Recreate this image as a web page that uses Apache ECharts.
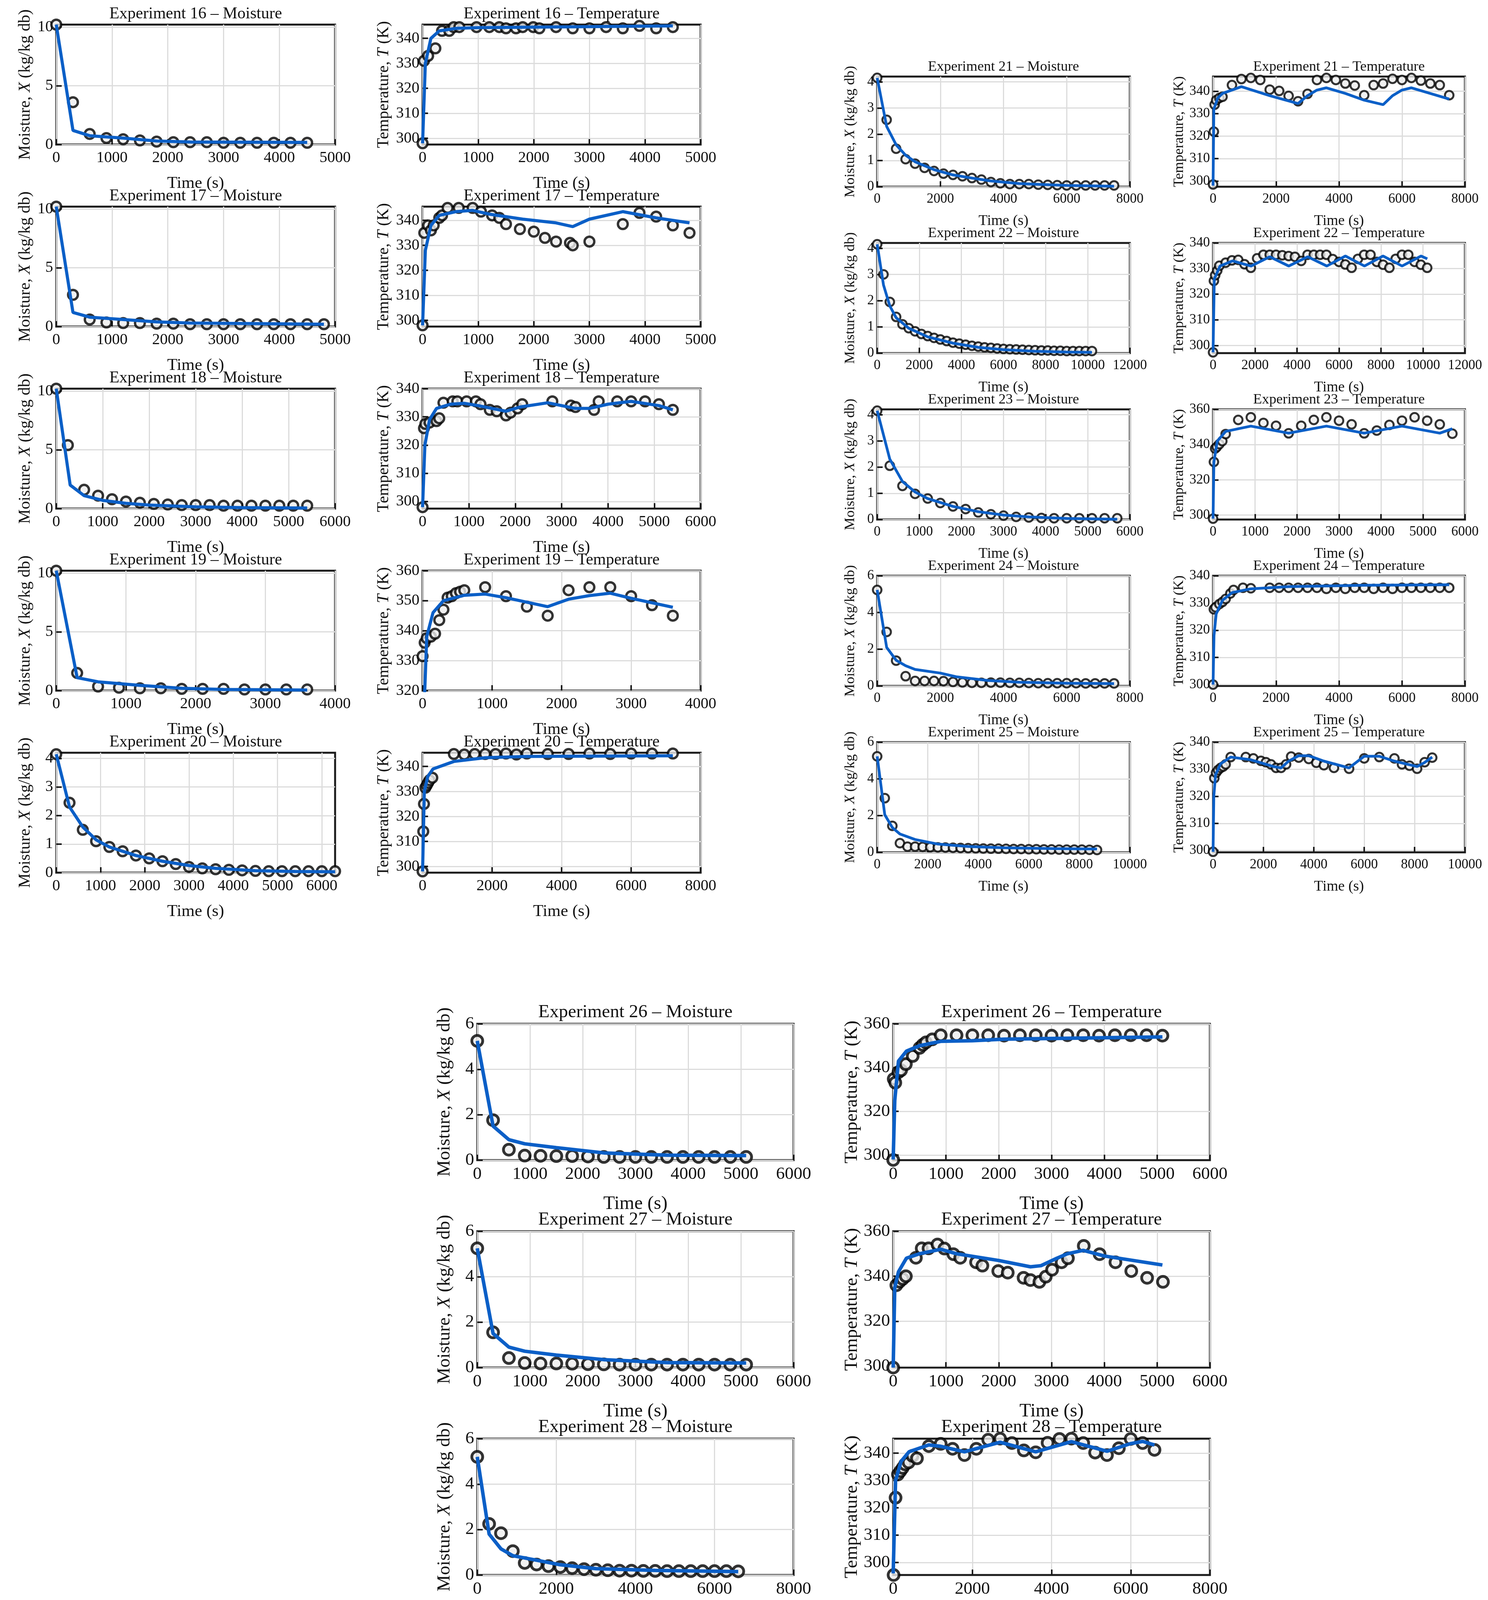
<!DOCTYPE html>
<html>
<head>
<meta charset="utf-8">
<script src="https://cdn.jsdelivr.net/npm/echarts@6/dist/echarts.min.js"></script>
<style>
html,body{margin:0;padding:0;background:#fff;}
#main{width:3810px;height:5228px;}
</style>
</head>
<body>
<div id="main"></div>
<script>
// time grids (s) for moisture samples
var t_3600 = [0,300,600,900,1200,1500,1800,2100,2400,2700,3000,3300,3600];
var t_4500 = [0,300,600,900,1200,1500,1800,2100,2400,2700,3000,3300,3600,3900,4200,4500];
var t_4800 = [0,300,600,900,1200,1500,1800,2100,2400,2700,3000,3300,3600,3900,4200,4500,4800];
var t_5100 = [0,300,600,900,1200,1500,1800,2100,2400,2700,3000,3300,3600,3900,4200,4500,4800,5100];
var t_5400 = [0,250,600,900,1200,1500,1800,2100,2400,2700,3000,3300,3600,3900,4200,4500,4800,5100,5400];
var t_5700 = [0,300,600,900,1200,1500,1800,2100,2400,2700,3000,3300,3600,3900,4200,4500,4800,5100,5400,5700];
var t_6300 = [0,300,600,900,1200,1500,1800,2100,2400,2700,3000,3300,3600,3900,4200,4500,4800,5100,5400,5700,6000,6300];
var t_6600 = [0,300,600,900,1200,1500,1800,2100,2400,2700,3000,3300,3600,3900,4200,4500,4800,5100,5400,5700,6000,6300,6600];
var t_7500 = [0,300,600,900,1200,1500,1800,2100,2400,2700,3000,3300,3600,3900,4200,4500,4800,5100,5400,5700,6000,6300,6600,6900,7200,7500];
var t_8700 = [0,300,600,900,1200,1500,1800,2100,2400,2700,3000,3300,3600,3900,4200,4500,4800,5100,5400,5700,6000,6300,6600,6900,7200,7500,7800,8100,8400,8700];
var t_10200 = [0,300,600,900,1200,1500,1800,2100,2400,2700,3000,3300,3600,3900,4200,4500,4800,5100,5400,5700,6000,6300,6600,6900,7200,7500,7800,8100,8400,8700,9000,9300,9600,9900,10200];

// moisture, measured (kg/kg db)
var e16_X = [10.2,3.6,0.9,0.55,0.45,0.35,0.25,0.2,0.2,0.2,0.15,0.15,0.15,0.15,0.15,0.15];
var e17_X = [10.2,2.7,0.6,0.35,0.3,0.3,0.25,0.25,0.2,0.2,0.2,0.2,0.2,0.2,0.2,0.2,0.2];
var e18_X = [10.2,5.4,1.6,1.1,0.8,0.6,0.5,0.4,0.35,0.3,0.3,0.3,0.25,0.25,0.25,0.25,0.25,0.25,0.25];
var e19_X = [10.2,1.5,0.35,0.25,0.2,0.2,0.15,0.15,0.15,0.1,0.1,0.1,0.1];
var e20_X = [4.15,2.45,1.5,1.1,0.9,0.75,0.6,0.5,0.4,0.3,0.2,0.15,0.12,0.1,0.08,0.06,0.05,0.05,0.05,0.05,0.05,0.05];
var e21_X = [4.15,2.55,1.45,1.05,0.88,0.72,0.6,0.5,0.45,0.4,0.33,0.27,0.18,0.13,0.1,0.1,0.1,0.08,0.07,0.06,0.05,0.05,0.05,0.05,0.05,0.05];
var e22_X = [4.15,3.0,1.95,1.38,1.1,0.95,0.83,0.73,0.65,0.58,0.52,0.46,0.4,0.36,0.32,0.28,0.25,0.22,0.2,0.18,0.16,0.15,0.14,0.13,0.12,0.11,0.1,0.1,0.09,0.09,0.08,0.08,0.08,0.08,0.08];
var e23_X = [4.15,2.05,1.28,0.98,0.8,0.63,0.5,0.4,0.27,0.2,0.15,0.1,0.08,0.06,0.05,0.05,0.05,0.05,0.05,0.05];
var e24_X = [5.23,2.94,1.38,0.53,0.27,0.27,0.27,0.26,0.22,0.19,0.17,0.17,0.18,0.18,0.17,0.17,0.16,0.15,0.15,0.15,0.15,0.15,0.14,0.14,0.14,0.14];
var e25_X = [5.23,2.95,1.44,0.5,0.31,0.31,0.3,0.28,0.27,0.26,0.25,0.24,0.23,0.22,0.21,0.2,0.2,0.19,0.18,0.18,0.17,0.17,0.16,0.16,0.15,0.15,0.15,0.15,0.14,0.13];
var e26_X = [5.25,1.76,0.46,0.2,0.19,0.18,0.18,0.16,0.14,0.14,0.14,0.14,0.14,0.14,0.14,0.14,0.14,0.14];
var e27_X = [5.25,1.55,0.42,0.2,0.18,0.18,0.17,0.15,0.14,0.13,0.13,0.13,0.13,0.13,0.13,0.13,0.13,0.13];
var e28_X = [5.2,2.25,1.84,1.05,0.53,0.46,0.39,0.35,0.3,0.26,0.23,0.21,0.19,0.19,0.18,0.18,0.17,0.17,0.17,0.17,0.17,0.17,0.16];
var e29_X = [5.25,2.35,1.75,0.85,0.6,0.5,0.42,0.37,0.3,0.27,0.25,0.22,0.2,0.2,0.19,0.18,0.18,0.17,0.17,0.17,0.17,0.17,0.15];
var e30_X = [5.25,2.35,1.75,0.9,0.5,0.45,0.4,0.35,0.28,0.25,0.22,0.2,0.18,0.18,0.17,0.17,0.16,0.16,0.16,0.16,0.16,0.16,0.14];

// moisture, model [t, X]
var e16_Xfit = [[0,10.2],[300,1.2],[600,0.75],[1200,0.55],[1800,0.3],[2400,0.22],[4500,0.18]];
var e17_Xfit = [[0,10.2],[300,1.2],[600,0.8],[1200,0.6],[1800,0.4],[2400,0.3],[4800,0.2]];
var e18_Xfit = [[0,10.2],[300,2],[600,1.1],[1000,0.7],[1500,0.45],[2000,0.3],[3000,0.15],[4000,0.08],[5400,0.05]];
var e19_Xfit = [[0,10.2],[300,1.1],[600,0.75],[1200,0.45],[1800,0.2],[2400,0.1],[3600,0.05]];
var e20_Xfit = [[0,4.15],[300,2.3],[600,1.6],[900,1.15],[1200,0.9],[1800,0.6],[2400,0.4],[3000,0.25],[3600,0.15],[4500,0.07],[5400,0.04],[6300,0.03]];
var e21_Xfit = [[0,4.15],[300,2.3],[600,1.6],[900,1.2],[1200,0.95],[1800,0.65],[2400,0.45],[3000,0.33],[3600,0.22],[4500,0.12],[6000,0.05],[7500,0.02]];
var e22_Xfit = [[0,4.15],[300,2.6],[600,1.8],[900,1.35],[1500,0.95],[2400,0.62],[3600,0.38],[4800,0.22],[6000,0.13],[7500,0.07],[9000,0.04],[10200,0.03]];
var e23_Xfit = [[0,4.15],[300,2.3],[600,1.45],[900,1.05],[1200,0.8],[1800,0.5],[2400,0.3],[3000,0.17],[3600,0.1],[4500,0.04],[5700,0.01]];
var e24_Xfit = [[0,5.23],[300,2.1],[600,1.4],[900,1.1],[1200,0.9],[2000,0.7],[2500,0.5],[3500,0.3],[4500,0.2],[6000,0.15],[7500,0.13]];
var e25_Xfit = [[0,5.23],[300,2.05],[600,1.35],[900,1.0],[1500,0.7],[2400,0.45],[3600,0.32],[5000,0.25],[7000,0.2],[8700,0.18]];
var e26_Xfit = [[0,5.25],[300,1.5],[600,0.9],[900,0.72],[1500,0.55],[2400,0.32],[3600,0.22],[5100,0.2]];
var e27_Xfit = [[0,5.25],[300,1.5],[600,0.9],[900,0.72],[1500,0.55],[2400,0.35],[3600,0.22],[5100,0.2]];
var e28_Xfit = [[0,5.2],[300,1.8],[600,1.15],[900,0.85],[1500,0.65],[2100,0.45],[3000,0.28],[4500,0.2],[6600,0.15]];
var e29_Xfit = [[0,5.25],[300,1.75],[600,1.1],[900,0.85],[1500,0.62],[2100,0.45],[3000,0.3],[4500,0.22],[6600,0.18]];
var e30_Xfit = [[0,5.25],[300,1.75],[600,1.1],[900,0.8],[1500,0.6],[2100,0.42],[3000,0.3],[4500,0.22],[6600,0.2]];

// temperature, measured (K)
var e16_Tt = [0,25,100,230,350,480,560,660,970,1200,1380,1500,1680,1800,1990,2100,2400,2700,3000,3300,3600,3900,4200,4500];
var e16_T = [298,331,333,336,343,343,344.5,344.5,344.5,344.5,344.5,344,344,344.5,344.5,344,344.5,344,344,344.5,344,345,344,344.5];
var e17_Tt = [0,30,100,150,200,300,350,450,650,900,1050,1250,1380,1500,1750,2000,2200,2400,2650,2700,3000,3600,3900,4200,4500,4800];
var e17_T = [298,335,338,336,338,341,342,345,345,345,343.5,342,341,338.5,336.5,335.5,333,331.5,331,330,331.5,338.5,343,341.5,338,335];
var e18_Tt = [0,30,60,150,300,360,450,650,750,950,1150,1250,1450,1600,1800,1900,2050,2150,2800,3200,3300,3700,3800,4200,4500,4800,5100,5400];
var e18_T = [298,326,327.5,328,328.5,329.5,335,335.5,335.5,335.5,335.5,334.5,332.5,332,330.5,331.5,333,334.5,335.5,334,333.5,332.5,335.5,335.5,335.5,335.5,334.5,332.5];
var e19_Tt = [0,30,60,120,180,240,300,360,420,480,540,600,900,1200,1500,1800,2100,2400,2700,3000,3300,3600];
var e19_T = [331.5,336,337.5,338,339,343.5,347,351,351.5,352.5,353,353.5,354.5,351.5,348,345,353.5,354.5,354.5,351.5,348.5,345];
var e20_Tt = [0,20,40,80,120,160,200,280,900,1200,1500,1800,2100,2400,2700,3000,3600,4200,4800,5400,6000,6600,7200];
var e20_T = [298,314,325,331.5,332.5,333.5,334.5,335.5,345,344.8,345,345,345,345.2,344.8,345.2,345,345,345.2,345,345.2,345.2,345.2];
var e21_Tt = [0,25,50,100,200,300,600,900,1200,1500,1800,2100,2400,2700,3000,3300,3600,3900,4200,4500,4800,5100,5400,5700,6000,6300,6600,6900,7200,7500];
var e21_T = [298.5,322,334,336,337,337.5,342.7,345.4,345.9,345,340.7,340.1,337.9,335.5,338.8,345,345.9,345,343.4,342.5,338.2,342.7,343.4,345.5,345,345.9,344.7,343.4,342.7,338.2];
var e22_Tt = [0,40,100,200,300,600,900,1200,1500,1800,2100,2400,2700,3000,3300,3600,3900,4200,4500,4800,5100,5400,5700,6000,6300,6600,6900,7200,7500,7800,8100,8400,8700,9000,9300,9600,9900,10200];
var e22_T = [297.3,325.2,327.4,329.2,331.1,332.3,333.2,333.4,331.7,330.3,334,335.4,335.4,335.4,335.2,334.9,334.6,333,335.4,335.4,335.4,335.4,333.7,332.6,331.6,330.3,333.8,335.4,335.4,332.6,331.5,330.3,333.8,335.4,335.4,332.6,331.5,330.3];
var e23_Tt = [0,20,50,90,150,220,300,600,900,1200,1500,1800,2100,2400,2700,3000,3300,3600,3900,4200,4500,4800,5100,5400,5700];
var e23_T = [298,330.2,337.8,338.7,340.3,342,346,354,355.5,352.3,350.7,346.4,350.7,354,355.5,353.6,351.5,346.4,348,351.2,353.6,355.5,353.6,351.5,346.2];
var e24_Tt = [0,25,80,200,300,400,550,650,950,1200,1800,2100,2400,2700,3000,3300,3600,3900,4200,4500,4800,5100,5400,5700,6000,6300,6600,6900,7200,7500];
var e24_T = [300,327.7,328.4,329.6,330.4,331.5,333.5,334.8,335.6,335.4,335.6,335.6,335.6,335.6,335.6,335.6,335.2,335.6,335.2,335.6,335.6,335.2,335.6,335.2,335.6,335.6,335.6,335.6,335.6,335.6];
var e25_Tt = [0,50,120,200,300,400,500,700,1300,1600,1900,2100,2300,2500,2700,2900,3100,3400,3800,4100,4400,4800,5400,6000,6600,7200,7500,7800,8100,8400,8700];
var e25_T = [299.5,326.7,328.7,329.7,330.5,331,331.8,334.5,334.5,334,333.1,332.6,331.8,330.5,330.5,331.8,334.7,334.3,333.8,332.4,331.5,330.5,330.2,334,334.5,334,331.8,331.3,330.2,332.6,334.3];
var e26_Tt = [0,10,40,100,150,240,370,500,560,620,740,900,1200,1500,1800,2100,2400,2700,3000,3300,3600,3900,4200,4500,4800,5100];
var e26_T = [297.8,334.8,333.1,337.9,338.8,341.6,345.3,349,350.4,351.5,352.9,354.8,354.8,354.8,354.8,354.6,354.8,354.8,354.6,354.8,354.8,354.6,354.8,354.8,354.8,354.6];
var e27_Tt = [0,60,120,180,240,430,540,670,840,970,1140,1270,1570,1690,1990,2170,2470,2600,2770,2890,3010,3190,3310,3610,3910,4210,4510,4810,5110];
var e27_T = [299.4,336,337.6,338.8,340,348.2,352.4,352.4,354.1,352.3,349.8,348.2,346.2,344.7,342.3,341.6,339.3,338.3,337.5,339.8,342.9,346.2,348,353.5,349.8,346.2,342.3,339.3,337.5];
// experiments 28-30 share the same temperature record
var e28_Tt = [10,60,120,180,240,300,390,490,600,900,1200,1500,1800,2100,2400,2700,3000,3300,3600,3900,4200,4500,4800,5100,5400,5700,6000,6300,6600];
var e28_T = [295.4,323.7,332.2,333.4,334.6,335.9,336.6,339,338.1,342.6,343.4,341.6,339.3,341.6,344.9,345.3,343.7,341,340.3,343.8,345.2,345.3,343.7,340.2,339.3,341.8,345.2,343.7,341.2];

// temperature, model [t, T]
var e16_Tfit = [[0,298],[50,330],[150,340],[300,343],[600,344],[1000,344.3],[4500,345]];
var e17_Tfit = [[0,298],[50,328],[150,338],[300,342],[600,343.5],[900,344],[1200,342.5],[1800,340.5],[2400,339],[2700,337.5],[3000,340.5],[3600,343.5],[4200,341],[4800,339]];
var e18_Tfit = [[0,298],[50,320],[150,329],[300,333],[600,334.5],[900,334.8],[1200,334],[1500,333],[1800,332],[2100,333.5],[2700,335],[3000,334],[3300,333],[3600,333],[4000,334.5],[4500,335.5],[5100,334],[5400,332.5]];
var e19_Tfit = [[0,300],[60,338],[150,346],[300,350],[600,351.8],[900,352.2],[1200,351],[1800,348],[2100,350.5],[2400,351.7],[2700,352.5],[3000,350.8],[3600,347.8]];
var e20_Tfit = [[0,298],[50,330],[150,336],[300,339],[900,342],[1800,343.5],[3000,344],[7200,344.3]];
var e21_Tfit = [[0,298],[25,332],[150,337],[300,339],[900,342],[1800,338],[2700,334.5],[3000,338],[3300,340.5],[3600,341.5],[4200,339],[4800,336],[5400,334],[5700,338],[6000,340.5],[6300,341.5],[7500,336.5]];
var e22_Tfit = [[0,297.3],[60,326],[335,331],[926,333],[1813,331],[2700,334.6],[3606,331],[4512,334.6],[5419,331],[6305,334.9],[7212,331],[8098,334.9],[9005,331],[9911,334.9],[10207,333.8]];
var e23_Tfit = [[0,298],[20,330],[100,342],[300,347.5],[900,350.5],[1800,346.5],[2700,350.5],[3600,346.5],[4500,350.5],[5400,346.5],[5700,349]];
var e24_Tfit = [[0,300],[30,318],[100,326],[300,331],[600,333.8],[1200,335.2],[2400,336],[4800,336.5],[7500,336.7]];
var e25_Tfit = [[0,299.5],[30,320],[100,328],[300,332],[700,334.5],[1500,333.5],[2400,331],[2700,330.5],[3000,333],[3400,335],[3800,335],[4400,333],[5400,330.5],[6000,334.8],[6600,334.8],[7200,333],[8100,331],[8400,332.5],[8700,334.5]];
var e26_Tfit = [[0,298],[30,325],[100,343],[250,347.5],[500,350],[900,352],[1500,352.3],[2100,353],[5100,354]];
var e27_Tfit = [[0,299.4],[30,335],[100,342],[250,348],[500,350],[900,352],[1200,350],[2000,347],[2600,344.2],[2800,344.7],[3100,348],[3300,350],[3600,351.5],[4000,349],[5100,345]];
var e28_Tfit = [[0,296],[60,330],[200,337],[400,340.5],[900,343],[1200,342.5],[1800,340.5],[2700,344],[3600,340.5],[4500,344.2],[5400,340.7],[6000,343.5],[6300,344.3],[6600,343]];

// tick labels
var xt_4000 = [0,1000,2000,3000,4000];
var xt_5000 = [0,1000,2000,3000,4000,5000];
var xt_6000 = [0,1000,2000,3000,4000,5000,6000];
var xt_8000 = [0,2000,4000,6000,8000];
var xt_10000 = [0,2000,4000,6000,8000,10000];
var xt_12000 = [0,2000,4000,6000,8000,10000,12000];
var yt_10 = [0,5,10];
var yt_4 = [0,1,2,3,4];
var yt_6 = [0,2,4,6];
var yt_T10 = [300,310,320,330,340];
var yt_T10b = [320,330,340,350,360];
var yt_T20 = [300,320,340,360];

var FONT = 'Liberation Serif';
var styles = {
	A: {fs: 40, sym: 25, bw: 6, lw: 8, gap: 20, ygapX: 58, ygapT: 78},
	B: {fs: 35, sym: 22, bw: 5, lw: 7, gap: 18, ygapX: 50, ygapT: 68},
	C: {fs: 45, sym: 28, bw: 7, lw: 9, gap: 22, ygapX: 60, ygapT: 82}
};

function zip(t, v) {
	var out = [];
	for (var i = 0; i < t.length; i++) out.push([t[i], v[i]]);
	return out;
}
function plain(v) { return String(v); }

var grids = [], xAxes = [], yAxes = [], series = [], graphics = [];

// one subplot
function panel(p) {
	var s = styles[p.g];
	var k = grids.length;
	grids.push({left: p.L, top: p.T, width: p.W, height: p.H, show: true,
		borderColor: '#1a1a1a', borderWidth: 5, backgroundColor: '#fff'});
	var tick = {inside: true, length: 14, lineStyle: {color: '#1a1a1a', width: 4}};
	xAxes.push({
		gridIndex: k, type: 'value', min: 0, max: p.xmax,
		name: 'Time (s)', nameLocation: 'middle', nameGap: s.fs * 1.45 + s.gap,
		nameTextStyle: {fontFamily: FONT, fontSize: s.fs * 1.08, color: '#111'},
		axisLine: {show: false},
		axisTick: Object.assign({customValues: p.xt}, tick),
		axisLabel: {customValues: p.xt, formatter: plain, fontFamily: FONT, fontSize: s.fs, color: '#111', margin: 14},
		splitLine: {show: true, lineStyle: {color: '#dcdcdc', width: 3}}
	});
	var isT = p.kind === 'T';
	yAxes.push({
		gridIndex: k, type: 'value', min: p.ymin, max: p.ymax,
		name: isT ? 'Temperature, {i|T} (K)' : 'Moisture, {i|X} (kg/kg db)',
		nameLocation: 'middle', nameRotate: 90, nameGap: isT ? s.ygapT : s.ygapX,
		nameTextStyle: {fontFamily: FONT, fontSize: s.fs * 1.05, color: '#111',
			rich: {i: {fontFamily: FONT, fontStyle: 'italic', fontSize: s.fs * 1.05, color: '#111'}}},
		axisLine: {show: false},
		axisTick: Object.assign({customValues: p.yt}, tick),
		axisLabel: {customValues: p.yt, formatter: plain, fontFamily: FONT, fontSize: s.fs, color: '#111', margin: 8},
		splitLine: {show: true, lineStyle: {color: '#dcdcdc', width: 3}}
	});
	series.push({
		type: 'scatter', xAxisIndex: k, yAxisIndex: k, data: p.pts,
		symbol: 'circle', symbolSize: s.sym, z: 3,
		itemStyle: {color: '#eeeeee', borderColor: '#000', borderWidth: s.bw}
	});
	series.push({
		type: 'line', xAxisIndex: k, yAxisIndex: k, data: p.fit,
		showSymbol: false, z: 4, clip: true,
		lineStyle: {color: '#0b5fc7', width: s.lw}
	});
	graphics.push({
		type: 'text', x: p.L + p.W / 2, y: p.T - 6,
		style: {text: p.title, font: (s.fs * 1.05) + 'px "' + FONT + '"', fill: '#111',
			textAlign: 'center', textVerticalAlign: 'bottom'}
	});
}

// layout: group A (exp 16-20), group B (21-25), group C (26-30)
var A_top = [63, 529, 995, 1461, 1927];
var B_top = [196, 622, 1048, 1474, 1900];
var C_top = [2621, 3152, 3683, 4214, 4745];

var setA = [
	{n: 16, X: zip(t_4500, e16_X), Xf: e16_Xfit, xm: 5000, xt: xt_5000, ym: 10.2, yt: yt_10,
		T: zip(e16_Tt, e16_T), Tf: e16_Tfit, txm: 5000, txt: xt_5000, tmin: 297.5, tmax: 345.5, tyt: yt_T10},
	{n: 17, X: zip(t_4800, e17_X), Xf: e17_Xfit, xm: 5000, xt: xt_5000, ym: 10.2, yt: yt_10,
		T: zip(e17_Tt, e17_T), Tf: e17_Tfit, txm: 5000, txt: xt_5000, tmin: 297.5, tmax: 345.5, tyt: yt_T10},
	{n: 18, X: zip(t_5400, e18_X), Xf: e18_Xfit, xm: 6000, xt: xt_6000, ym: 10.2, yt: yt_10,
		T: zip(e18_Tt, e18_T), Tf: e18_Tfit, txm: 6000, txt: xt_6000, tmin: 297.5, tmax: 340, tyt: yt_T10},
	{n: 19, X: zip(t_3600, e19_X), Xf: e19_Xfit, xm: 4000, xt: xt_4000, ym: 10.2, yt: yt_10,
		T: zip(e19_Tt, e19_T), Tf: e19_Tfit, txm: 4000, txt: xt_4000, tmin: 320, tmax: 360, tyt: yt_T10b},
	{n: 20, X: zip(t_6300, e20_X), Xf: e20_Xfit, xm: 6300, xt: xt_6000, ym: 4.2, yt: yt_4,
		T: zip(e20_Tt, e20_T), Tf: e20_Tfit, txm: 8000, txt: xt_8000, tmin: 297.5, tmax: 345.5, tyt: yt_T10}
];
var setB = [
	{n: 21, X: zip(t_7500, e21_X), Xf: e21_Xfit, xm: 8000, xt: xt_8000, ym: 4.2, yt: yt_4,
		T: zip(e21_Tt, e21_T), Tf: e21_Tfit, txm: 8000, txt: xt_8000, tmin: 297.5, tmax: 346.5, tyt: yt_T10},
	{n: 22, X: zip(t_10200, e22_X), Xf: e22_Xfit, xm: 12000, xt: xt_12000, ym: 4.2, yt: yt_4,
		T: zip(e22_Tt, e22_T), Tf: e22_Tfit, txm: 12000, txt: xt_12000, tmin: 297, tmax: 340, tyt: yt_T10},
	{n: 23, X: zip(t_5700, e23_X), Xf: e23_Xfit, xm: 6000, xt: xt_6000, ym: 4.2, yt: yt_4,
		T: zip(e23_Tt, e23_T), Tf: e23_Tfit, txm: 6000, txt: xt_6000, tmin: 297.5, tmax: 360, tyt: yt_T20},
	{n: 24, X: zip(t_7500, e24_X), Xf: e24_Xfit, xm: 8000, xt: xt_8000, ym: 6, yt: yt_6,
		T: zip(e24_Tt, e24_T), Tf: e24_Tfit, txm: 8000, txt: xt_8000, tmin: 299.5, tmax: 340, tyt: yt_T10},
	{n: 25, X: zip(t_8700, e25_X), Xf: e25_Xfit, xm: 10000, xt: xt_10000, ym: 6, yt: yt_6,
		T: zip(e25_Tt, e25_T), Tf: e25_Tfit, txm: 10000, txt: xt_10000, tmin: 299.3, tmax: 340, tyt: yt_T10}
];
var setC = [
	{n: 26, X: zip(t_5100, e26_X), Xf: e26_Xfit, xm: 6000, xt: xt_6000, ym: 6, yt: yt_6,
		T: zip(e26_Tt, e26_T), Tf: e26_Tfit, txm: 6000, txt: xt_6000, tmin: 297.7, tmax: 360, tyt: yt_T20},
	{n: 27, X: zip(t_5100, e27_X), Xf: e27_Xfit, xm: 6000, xt: xt_6000, ym: 6, yt: yt_6,
		T: zip(e27_Tt, e27_T), Tf: e27_Tfit, txm: 6000, txt: xt_6000, tmin: 299.4, tmax: 360, tyt: yt_T20},
	{n: 28, X: zip(t_6600, e28_X), Xf: e28_Xfit, xm: 8000, xt: xt_8000, ym: 6, yt: yt_6,
		T: zip(e28_Tt, e28_T), Tf: e28_Tfit, txm: 8000, txt: xt_8000, tmin: 295.4, tmax: 345.3, tyt: yt_T10},
	{n: 29, X: zip(t_6600, e29_X), Xf: e29_Xfit, xm: 8000, xt: xt_8000, ym: 6, yt: yt_6,
		T: zip(e28_Tt, e28_T), Tf: e28_Tfit, txm: 8000, txt: xt_8000, tmin: 295.4, tmax: 345.3, tyt: yt_T10},
	{n: 30, X: zip(t_6600, e30_X), Xf: e30_Xfit, xm: 8000, xt: xt_8000, ym: 6, yt: yt_6,
		T: zip(e28_Tt, e28_T), Tf: e28_Tfit, txm: 8000, txt: xt_8000, tmin: 295.4, tmax: 345.3, tyt: yt_T10}
];

function addGroup(set, tops, g, mL, mW, tL, tW, H) {
	for (var i = 0; i < set.length; i++) {
		var e = set[i];
		panel({g: g, kind: 'X', L: mL, T: tops[i], W: mW, H: H, title: 'Experiment ' + e.n + ' – Moisture',
			xmax: e.xm, xt: e.xt, ymin: 0, ymax: e.ym, yt: e.yt, pts: e.X, fit: e.Xf});
		panel({g: g, kind: 'T', L: tL, T: tops[i], W: tW, H: H, title: 'Experiment ' + e.n + ' – Temperature',
			xmax: e.txm, xt: e.txt, ymin: e.tmin, ymax: e.tmax, yt: e.tyt, pts: e.T, fit: e.Tf});
	}
}
addGroup(setA, A_top, 'A', 144, 714, 1082, 712, 307);
addGroup(setB, B_top, 'B', 2246, 647, 3106, 645, 282);
addGroup(setC, C_top, 'C', 1222, 810, 2287, 811, 349);

var chart = echarts.init(document.getElementById('main'));
chart.setOption({
	backgroundColor: '#fff',
	animation: false,
	grid: grids,
	xAxis: xAxes,
	yAxis: yAxes,
	series: series,
	graphic: graphics
});
</script>
</body>
</html>
